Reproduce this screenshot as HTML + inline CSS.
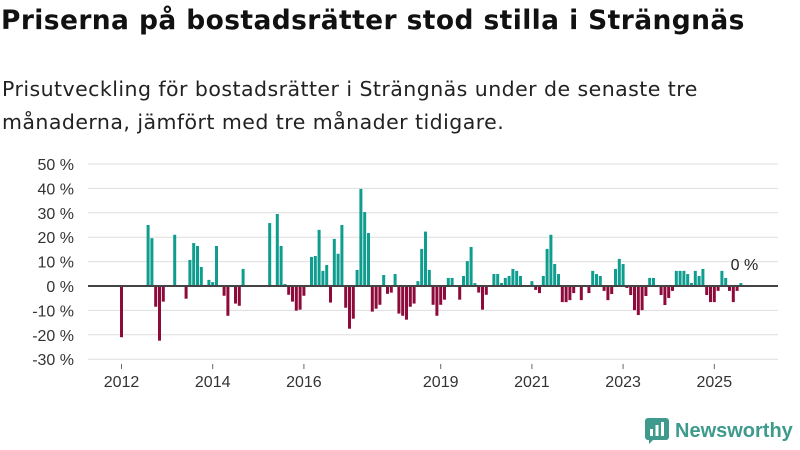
<!DOCTYPE html>
<html><head><meta charset="utf-8"><style>
body{margin:0;width:800px;height:450px;background:#fff;font-family:"Liberation Sans","DejaVu Sans",sans-serif;overflow:hidden;position:relative}
h1{position:absolute;left:1px;top:5px;margin:0;font-family:"DejaVu Sans",sans-serif;font-size:26.5px;font-weight:bold;color:#111;letter-spacing:0.4px}
.sub{position:absolute;left:2px;top:73px;margin:0;font-family:"DejaVu Sans",sans-serif;font-size:20.5px;line-height:33px;color:#222;letter-spacing:0.45px}
svg{position:absolute;left:0;top:0}
</style></head><body>
<h1>Priserna på bostadsrätter stod stilla i Strängnäs</h1>
<p class="sub">Prisutveckling för bostadsrätter i Strängnäs under de senaste tre<br>månaderna, jämfört med tre månader tidigare.</p>
<svg id="chart" width="800" height="450"></svg>
<div style="position:absolute;left:645px;top:418px;display:flex;align-items:center;gap:6px">
<svg width="24" height="26" style="position:static"><rect x="0" y="0" width="24" height="22" rx="3" fill="#3d9a8c"/><polygon points="4,26 4,20 10,20" fill="#3d9a8c"/><rect x="5" y="11" width="3" height="7" fill="#fff"/><rect x="10.5" y="7" width="3" height="11" fill="#fff"/><rect x="16" y="4" width="3" height="14" fill="#fff"/></svg>
<span style="font-size:20px;font-weight:bold;color:#3d9a8c">Newsworthy</span></div>
<script>
const yTicks=[50,40,30,20,10,0,-10,-20,-30];
const yearTicks=[2012,2014,2016,2019,2021,2023,2025];
const values=[-21,null,null,null,null,null,null,25,19.6,-8.5,-22.4,-6.4,null,null,21,null,null,-5.2,10.7,17.6,16.4,7.8,null,2.5,1.6,16.4,null,-4,-12.2,null,-7.2,-8.1,7,null,null,null,null,null,null,25.8,null,29.5,16.4,0.8,-3.6,-6.4,-10.1,-9.7,-4,null,11.9,12.3,23,6.2,8.6,-6.8,19.3,13.2,25,-8.9,-17.5,-13.4,6.6,39.8,30.3,21.7,-10.5,-9.3,-7.7,4.5,-3.2,-2.7,4.9,-11.3,-12.2,-13.8,-8.5,-7.2,2,15.2,22.3,6.6,-7.7,-12.2,-7.7,-5.6,3.3,3.3,null,-5.6,4.1,10.2,16,1.2,-2.7,-9.7,-3.6,null,4.9,4.9,1.2,3.3,4.1,7,6.2,4.1,null,null,2,-1.6,-2.9,4.1,15.2,21,9,4.9,-6.6,-6.6,-5.8,-2.9,0.4,-5.8,null,-2.9,6.2,4.9,4.1,-2,-5.8,-3.3,7,11.1,9,-0.8,-3.7,-9.9,-11.9,-9.9,-4.1,3.3,3.3,null,-3.7,-7.8,-4.9,-2,6.2,6.2,6.2,4.9,1.2,6.2,4.1,7,-3.7,-6.6,-6.6,-2,6.2,3.3,-2,-6.6,-2,1.2];
const lastLabel="0 %";
const svg=document.getElementById('chart');const NS='http://www.w3.org/2000/svg';
const y=v=>286-v*2.44;
const x=i=>120+i*3.8;
const yearX=yr=>x((yr-2012)*12)+1.5;
function mk(t,a){const e=document.createElementNS(NS,t);for(const k in a)e.setAttribute(k,a[k]);svg.appendChild(e);return e;}
yTicks.forEach(v=>{
 const g=mk('line',{x1:88,x2:778,y1:y(v),y2:y(v),stroke:'#dedede','stroke-width':1});
 
 
 const t=mk('text',{x:74,y:y(v)+6,'text-anchor':'end','font-size':16,fill:'#333'});
 t.textContent=v+' %';
 
 
});
values.forEach((v,i)=>{
 if(v===null)return;
 const top=v>=0?y(v):y(0), h=Math.abs(y(v)-y(0));
 const r=mk('rect',{x:x(i),y:top,width:3,height:Math.max(h,0.8),fill:v>=0?'#0f9d8f':'#8d0a3a'});
 
 
});
const z=mk('line',{x1:88,x2:778,y1:y(0),y2:y(0),stroke:'#444','stroke-width':2});


yearTicks.forEach(yr=>{
 const l=mk('line',{x1:yearX(yr),x2:yearX(yr),y1:364,y2:369,stroke:'#666'});
 
 
 const t=mk('text',{x:yearX(yr),y:387,'text-anchor':'middle','font-size':16,fill:'#333'});
 t.textContent=yr;
 
 
});
const ll=mk('text',{x:x(values.length-1)+5,y:270,'text-anchor':'middle','font-size':16,fill:'#222'});
ll.textContent=lastLabel;


</script>
</body></html>
